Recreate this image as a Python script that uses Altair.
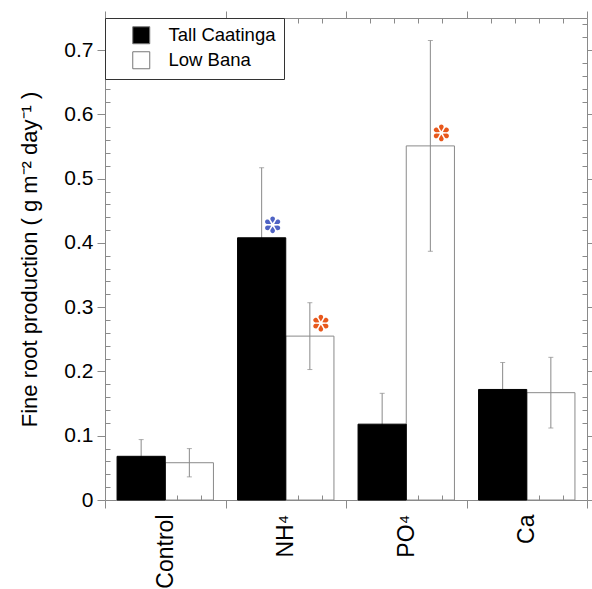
import math
import altair as alt
import pandas as pd

# ---- data ----
treatments = ["Control", "NH⁴", "PO⁴", "Ca"]
sites = ["Tall Caatinga", "Low Bana"]
tall_mean = [0.068, 0.408, 0.118, 0.172]
tall_err = [0.026, 0.109, 0.048, 0.042]
low_mean = [0.058, 0.255, 0.551, 0.167]
low_err = [0.022, 0.052, 0.164, 0.055]

sig_treatment = ["NH⁴", "NH⁴", "PO⁴"]
sig_site = ["Tall Caatinga", "Low Bana", "Low Bana"]
sig_color = ["#4f63c4", "#e8581c", "#e8581c"]

y_major = [0, 0.1, 0.2, 0.3, 0.4, 0.5, 0.6, 0.7]
y_minor = [round(i * 0.02, 2) for i in range(1, 38) if i % 5]
x_minor = [i for i in range(1, 20) if i % 5]

rows = []
for t, m, e in zip(treatments, tall_mean, tall_err):
    rows.append(dict(treatment=t, site="Tall Caatinga", mean=m, lo=m - e, hi=m + e))
for t, m, e in zip(treatments, low_mean, low_err):
    rows.append(dict(treatment=t, site="Low Bana", mean=m, lo=m - e, hi=m + e))
df = pd.DataFrame(rows)

lookup = {(r["treatment"], r["site"]): r["mean"] for r in rows}
sig = pd.DataFrame(dict(treatment=sig_treatment, site=sig_site, color=sig_color,
                        mean=[lookup[(t, s)] for t, s in zip(sig_treatment, sig_site)]))


def teardrop_star(n=6, r_tip=0.2, r_c=0.7, a=0.27, start=-90, shift=1.27):
    """Open-centre teardrop-spoked asterisk glyph (SVG path in symbol units),
    drawn a little to the right of its anchor point."""
    parts = []
    for k in range(n):
        th = math.radians(start + k * 360 / n)
        ux, uy = math.cos(th), math.sin(th)
        tx, ty = r_tip * ux + shift, r_tip * uy
        cx, cy = r_c * ux + shift, r_c * uy
        b = math.acos(a / (r_c - r_tip))
        a1, a2 = th + math.pi + b, th + math.pi - b
        p1 = (cx + a * math.cos(a1), cy + a * math.sin(a1))
        p2 = (cx + a * math.cos(a2), cy + a * math.sin(a2))
        parts.append(f"M{tx:.3f},{ty:.3f}L{p1[0]:.3f},{p1[1]:.3f}"
                     f"A{a},{a} 0 1 1 {p2[0]:.3f},{p2[1]:.3f}Z")
    return "".join(parts)


W, H = 482, 482
FONT = "Liberation Sans"
GRAY = "#8a8a8a"
INWARD = alt.expr("-5")


def ax(**kw):
    base = dict(domainColor=GRAY, tickColor=GRAY, domainWidth=1, tickWidth=1,
                labelColor="black", labelFont=FONT, grid=False, title=None)
    base.update(kw)
    return alt.Axis(**base)


def minor_ax(orient, values):
    return alt.Axis(orient=orient, values=values, tickSize=INWARD,
                    tickColor=GRAY, tickWidth=1, labels=False, domain=False,
                    grid=False, title=None)


yscale = alt.Scale(domain=[0, 0.75], nice=False, zero=True)
xscale = alt.Scale(domain=treatments, paddingInner=0, paddingOuter=0)
oscale = alt.Scale(domain=sites, paddingInner=0, paddingOuter=0.25)


def X(axis=None):
    return alt.X("treatment:N", scale=xscale, sort=treatments, axis=axis)


def XO():
    return alt.XOffset("site:N", scale=oscale, sort=sites)


color = alt.Color(
    "site:N",
    scale=alt.Scale(domain=sites, range=["black", "white"]),
    legend=alt.Legend(
        orient="top-left", offset=0, title=None, strokeColor="#333",
        fillColor="white", padding=8, symbolType="square", symbolSize=289,
        symbolStrokeColor="#777", symbolStrokeWidth=1, symbolOpacity=1,
        labelFontSize=18.5, labelFont=FONT, labelColor="black",
        labelOffset=18, rowPadding=3, symbolOffset=19,
    ),
)

base = alt.Chart(df)

low_bars = base.transform_filter(alt.datum.site == "Low Bana").mark_bar(
    stroke=GRAY, strokeWidth=1, fillOpacity=0
).encode(
    x=X(ax(orient="bottom", tickBand="extent", tickSize=8, labelAngle=270,
           labelFontSize=23, labelPadding=6)),
    xOffset=XO(),
    y=alt.Y("mean:Q", scale=yscale,
            axis=ax(orient="left", values=y_major, tickSize=8, labelFontSize=21,
                    labelPadding=4,
                    labelExpr="datum.value == 0 ? '0' : format(datum.value, '.1f')",
                    title="Fine root production ( g m⁻² day⁻¹ )",
                    titleFont=FONT, titleFontSize=22, titleFontWeight="normal",
                    titleColor="black", titlePadding=22)),
    color=color,
)

err = base.mark_rule(color=GRAY, strokeWidth=1).encode(
    x=X(ax(orient="top", tickBand="extent", tickSize=7, labels=False)),
    xOffset=XO(),
    y=alt.Y("lo:Q", scale=yscale,
            axis=ax(orient="right", values=y_major, tickSize=6, labels=False)),
    y2="hi:Q",
)

cap_hi = base.mark_tick(color=GRAY, size=5, thickness=1).encode(
    x=X(),
    xOffset=XO(),
    y=alt.Y("hi:Q", scale=yscale, axis=minor_ax("left", y_minor)),
)

cap_lo = base.mark_tick(color=GRAY, size=5, thickness=1).encode(
    x=X(),
    xOffset=XO(),
    y=alt.Y("lo:Q", scale=yscale, axis=minor_ax("right", y_minor)),
)

tall_bars = base.transform_filter(alt.datum.site == "Tall Caatinga").mark_bar(
    stroke="black", strokeWidth=1
).encode(
    x=X(),
    xOffset=XO(),
    y=alt.Y("mean:Q", scale=yscale, axis=None),
    color=color,
)

stars = alt.Chart(sig).mark_point(
    shape=teardrop_star(), filled=True, size=300, opacity=1, yOffset=-13,
).encode(
    x=X(),
    xOffset=XO(),
    y=alt.Y("mean:Q", scale=yscale, axis=None),
    fill=alt.Fill("color:N", scale=None),
)

qx = alt.Scale(domain=[0, 20], nice=False, zero=True)
minor_bottom = base.mark_point(opacity=0).encode(
    x=alt.X("mean:Q", scale=qx, axis=minor_ax("bottom", x_minor)),
)
minor_top = base.mark_point(opacity=0).encode(
    x=alt.X("mean:Q", scale=qx, axis=minor_ax("top", x_minor)),
)

chart = alt.layer(
    low_bars, err, cap_hi, cap_lo, tall_bars, stars, minor_bottom, minor_top
).resolve_scale(
    x="independent", y="shared"
).resolve_axis(
    x="independent", y="independent"
).properties(
    width=W, height=H,
    autosize=alt.AutoSizeParams(type="none"),
    padding={"left": 105, "top": 18, "right": 5, "bottom": 89},
).configure_view(stroke=None)

chart.save("out.html", embed_options={"renderer": "svg", "actions": False})
